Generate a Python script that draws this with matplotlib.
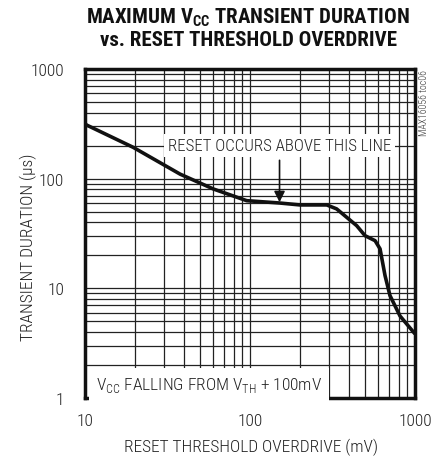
import matplotlib
matplotlib.use("Agg")
import matplotlib.pyplot as plt

overdrive_mv = [10, 10.2, 19.6, 37.7, 60, 95.5, 151, 201, 292, 335, 443, 498, 573, 614, 658, 705, 811, 1000]
duration_us = [320, 309, 193, 110, 80.5, 63, 60, 57.6, 57.6, 53, 37.3, 30.2, 27.2, 22.9, 13.1, 8.6, 5.6, 3.84]
x_ticks = [10, 100, 1000]
x_tick_labels = ['10', '100', '1000']
y_ticks = [1, 10, 100, 1000]
y_tick_labels = ['1', '10', '100', '1000']

FAM = ['Roboto Condensed', 'DejaVu Sans']
plt.rcParams['font.family'] = FAM
plt.rcParams['font.weight'] = 'light'
plt.rcParams['mathtext.fontset'] = 'custom'
plt.rcParams['mathtext.rm'] = 'Roboto Condensed:light'
plt.rcParams['mathtext.bf'] = 'Roboto Condensed:bold'

fig = plt.figure(figsize=(4.43, 4.60), dpi=100)
W, H = 443, 460
L, R, T, B = 85, 415, 70, 399
ax = fig.add_axes([L / W, 1 - B / H, (R - L) / W, (B - T) / H])
ax.set_xscale('log')
ax.set_yscale('log')
ax.set_xlim(10, 1000)
ax.set_ylim(1, 1000)
ax.grid(True, which='both', color='#222222', lw=0.9)
ax.tick_params(which='both', length=0)
ax.set_xticks(x_ticks)
ax.set_xticklabels(x_tick_labels, fontsize=12.5, color='#222222', fontweight='light')
ax.set_yticks(y_ticks)
ax.set_yticklabels(y_tick_labels, fontsize=12.5, color='#222222', fontweight='light')
ax.tick_params(axis='x', pad=11)
ax.tick_params(axis='y', pad=15)
for s in ax.spines.values():
    s.set_linewidth(2.5)
    s.set_color('#111111')

ax.plot(overdrive_mv, duration_us, color='#111111', lw=2.6, solid_capstyle='butt', zorder=3)

ax.text(151, 200, 'RESET OCCURS ABOVE THIS LINE', fontsize=12.2, color='#222222',
        fontweight='light', ha='center', va='center', zorder=4,
        bbox=dict(facecolor='white', edgecolor='none', pad=3))
ax.annotate('', xy=(151, 61), xytext=(151, 147),
            arrowprops=dict(arrowstyle='-|>', color='#111111', lw=1.2, mutation_scale=16,
                            shrinkA=0, shrinkB=0), zorder=4)
ax.text(11.6, 1.32, 'V$_{\\mathregular{CC}}$ FALLING FROM V$_{\\mathregular{TH}}$ + 100mV',
        fontsize=12.5, color='#222222', fontweight='light', ha='left', va='center', zorder=4,
        bbox=dict(facecolor='white', edgecolor='none', pad=5))

fig.text(248 / W, 1 - 18 / H, 'MAXIMUM V$_{\\mathregular{CC}}$ TRANSIENT DURATION',
         fontsize=15, fontweight='bold', ha='center', va='center', color='#111111')
fig.text(248 / W, 1 - 41 / H, 'vs. RESET THRESHOLD OVERDRIVE',
         fontsize=15, fontweight='bold', ha='center', va='center', color='#111111')
fig.text(251 / W, 1 - 447 / H, 'RESET THRESHOLD OVERDRIVE (mV)',
         fontsize=12.5, fontweight='light', ha='center', va='center', color='#222222')
fig.text(28 / W, 1 - 247 / H, 'TRANSIENT DURATION (µs)',
         fontsize=12.5, fontweight='light', ha='center', va='center', rotation=90, color='#222222')
fig.text(424 / W, 1 - 70 / H, 'MAX16056 toc06',
         fontsize=7, fontweight='light', ha='center', va='top', rotation=90, color='#333333')

fig.savefig('out.png', dpi=100)
